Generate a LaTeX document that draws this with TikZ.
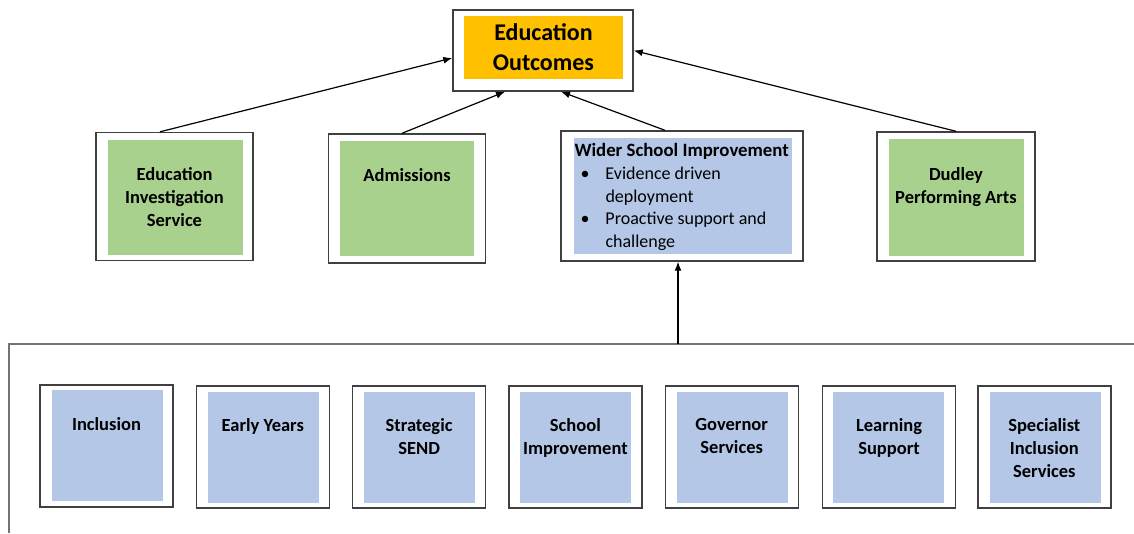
\documentclass[tikz,border=0pt]{standalone}
\usepackage{fontspec}
\setmainfont{Carlito}
\usetikzlibrary{arrows.meta}
\definecolor{outcomeorange}{HTML}{FFC000}
\definecolor{servicegreen}{HTML}{A9D18E}
\definecolor{serviceblue}{HTML}{B4C7E7}
\tikzset{
	unitframe/.style={draw=black!75, line width=1.4, fill=white, inner sep=0},
	midframe/.style={unitframe, minimum width=157, minimum height=128},
	lowframe/.style={unitframe, minimum width=133, minimum height=122},
	midfill/.style={fill=servicegreen, minimum width=135, minimum height=115, inner sep=0},
	lowfill/.style={fill=serviceblue, minimum width=111, minimum height=111, inner sep=0},
	unitlabel/.style={font=\fontsize{18.5}{23}\selectfont\bfseries, align=center, inner sep=0, anchor=north},
	feed/.style={line width=1.2, -{Latex[length=9,width=7]}}
}

\begin{document}
\begin{tikzpicture}[x=1pt, y=-1pt]
		%%%%% START %%%%%
		\useasboundingbox (0, 0) rectangle (1134, 533);
		
		% top
		\node[unitframe, minimum width=180, minimum height=81] (outcomes) at (543, 50.5) {};
		\node[fill=outcomeorange, minimum width=159, minimum height=63, inner sep=0, align=center, font=\fontsize{24}{30}\selectfont\bfseries] (outcometext) at (543.5, 47.5) {Education\\Outcomes};
		
		% middle row
		\node[midframe] (eis) at (174.5, 196.5) {};
		\node[midfill] at (175.5, 197) {};
		\node[unitlabel] at ([yshift=-35]eis.north) {Education\\Investigation\\Service};
		
		\node[midframe, minimum height=129] (admissions) at (407, 198.5) {};
		\node[midfill, minimum width=134] at (407, 198.5) {};
		\node[unitlabel] at ([yshift=-35]admissions.north) {Admissions};
		
		\node[unitframe, minimum width=242, minimum height=130] (wider) at (682, 196) {};
		\node[fill=serviceblue, minimum width=218, minimum height=116, inner sep=0] at (683, 196) {};
		\node[font=\fontsize{18}{22.75}\selectfont, align=left, inner sep=0, anchor=north west] (widertext) at ([xshift=14, yshift=-13]wider.north west)
			{{\fontsize{18.8}{22.75}\selectfont\bfseries Wider School Improvement}\\
			\hspace*{6pt}\makebox[25pt][l]{\textbullet}Evidence driven\\
			\hspace*{31pt}deployment\\
			\hspace*{6pt}\makebox[25pt][l]{\textbullet}Proactive support and\\
			\hspace*{31pt}challenge};
		
		\node[midframe, minimum width=158, minimum height=129] (dudley) at (956, 196.5) {};
		\node[midfill, minimum height=117] at (956.5, 197.5) {};
		\node[unitlabel] at ([yshift=-36]dudley.north) {Dudley\\Performing Arts};
		
		% arrows up
		\draw[feed] ([xshift=-14.5]eis.north) -- ([yshift=-7.5]outcomes.west);
		\draw[feed] ([xshift=-5]admissions.north) -- ([xshift=-38]outcomes.south);
		\draw[feed] ([xshift=-17]wider.north) -- ([xshift=18]outcomes.south);
		\draw[feed] (dudley.north) -- (outcomes.east);
		
		% lower group
		\draw[draw=black!55, line width=1.4] (9, 533) -- (9, 344) -- (1134, 344);
		\coordinate (groupjoin) at (678, 344);
		\draw[feed] (groupjoin) -- ([xshift=-4]wider.south);
		
		\node[lowframe] (inclusion) at (106.5, 446) {};
		\node[lowfill] at (107.5, 445.5) {};
		\node[unitlabel] at ([yshift=-33]inclusion.north) {Inclusion};
		
		\node[lowframe] (earlyyears) at (262.8, 447) {};
		\node[lowfill] at (263.5, 447.5) {};
		\node[unitlabel] at ([yshift=-33]earlyyears.north) {Early Years};
		
		\node[lowframe] (send) at (419.1, 447) {};
		\node[lowfill] at (419.6, 447) {};
		\node[unitlabel] at ([yshift=-33]send.north) {Strategic\\SEND};
		
		\node[lowframe] (schoolimp) at (575.4, 447) {};
		\node[lowfill] at (575.9, 447) {};
		\node[unitlabel] at ([yshift=-33]schoolimp.north) {School\\Improvement};
		
		\node[lowframe] (governor) at (731.7, 447) {};
		\node[lowfill] at (732.2, 447) {};
		\node[unitlabel] at ([yshift=-33]governor.north) {Governor\\Services};
		
		\node[lowframe] (learning) at (889, 447) {};
		\node[lowfill] at (888.5, 447) {};
		\node[unitlabel] at ([yshift=-33]learning.north) {Learning\\Support};
		
		\node[lowframe] (specialist) at (1044.3, 447) {};
		\node[lowfill] at (1045, 447) {};
		\node[unitlabel] at ([yshift=-33]specialist.north) {Specialist\\Inclusion\\Services};
		
		%%%%% END %%%%%
\end{tikzpicture}
\end{document}
